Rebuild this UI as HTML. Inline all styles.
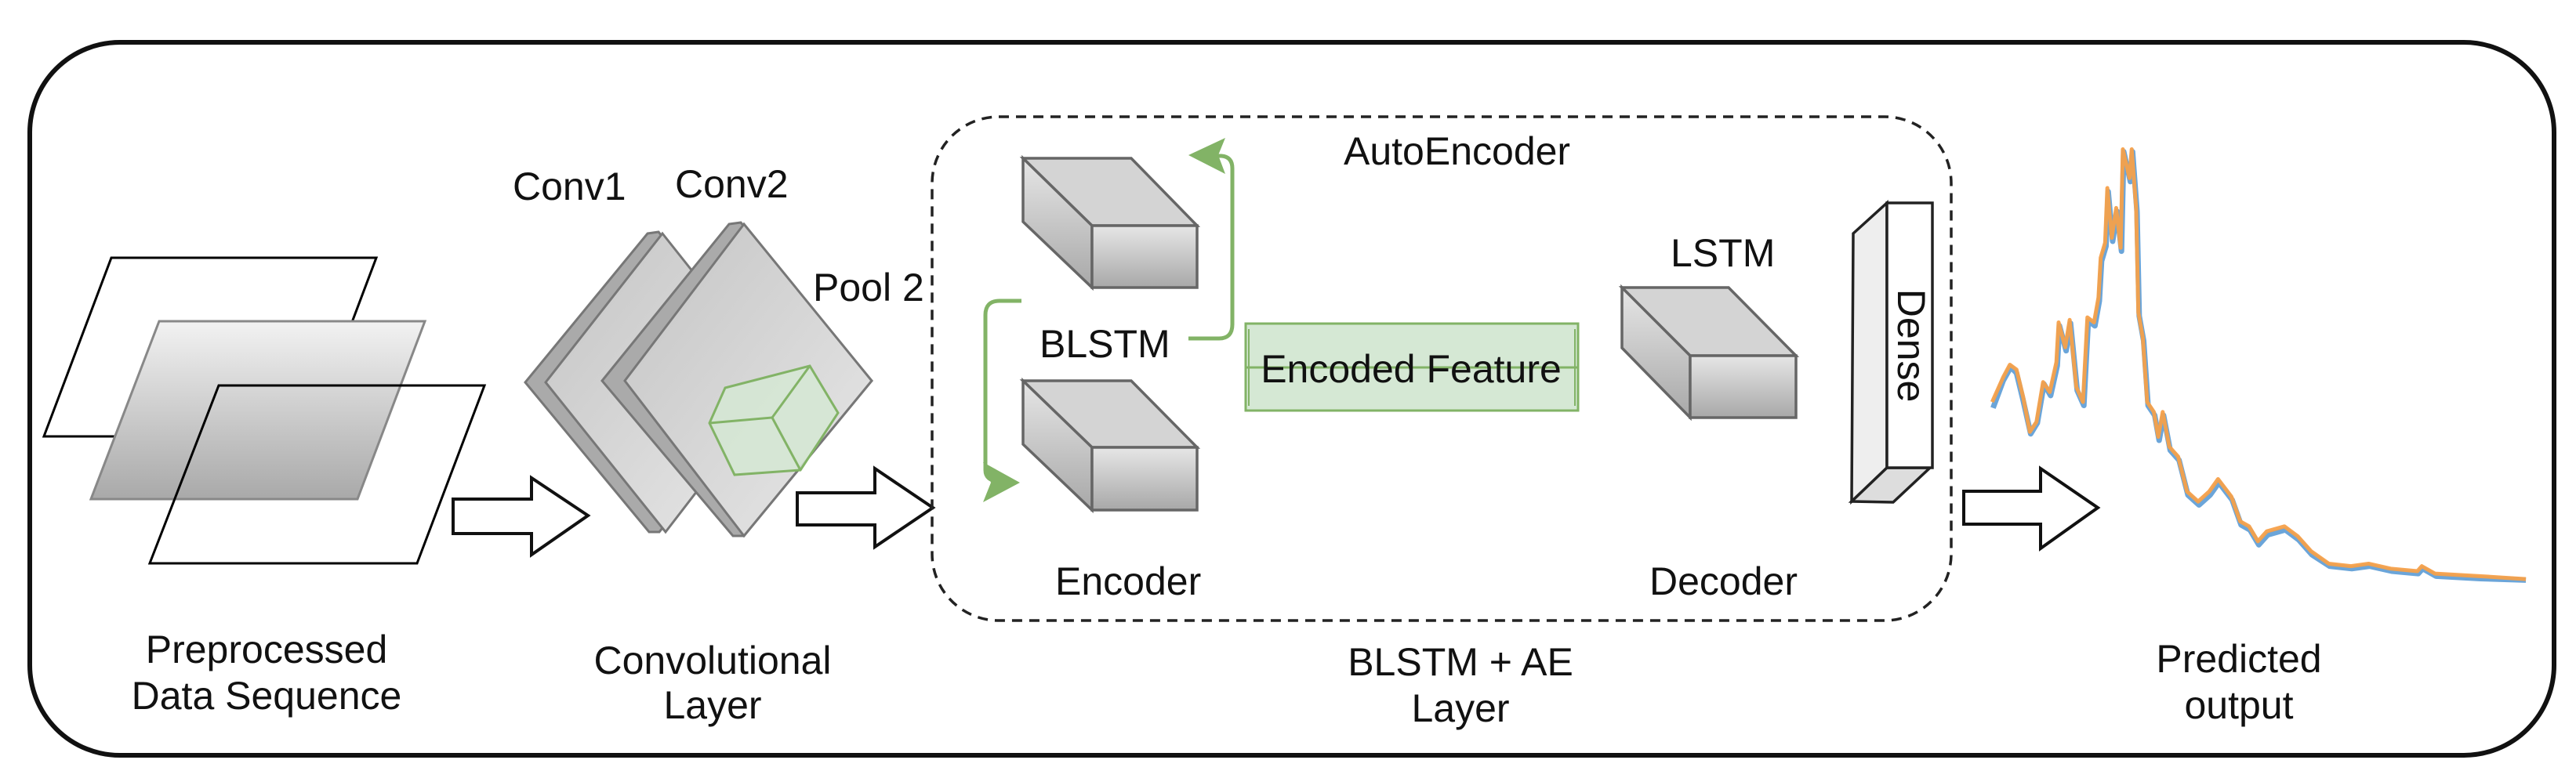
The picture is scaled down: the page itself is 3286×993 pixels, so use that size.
<!DOCTYPE html>
<html><head><meta charset="utf-8"><style>
html,body{margin:0;padding:0;background:#fff;}
svg{display:block;}
text{font-family:"Liberation Sans",Arial,sans-serif;font-size:50px;fill:#111;}
</style></head><body>
<svg width="3286" height="993" viewBox="0 0 3286 993" xmlns="http://www.w3.org/2000/svg">
<defs>
<linearGradient id="gv" x1="0" y1="0" x2="0" y2="1"><stop offset="0" stop-color="#f2f2f2"/><stop offset="1" stop-color="#a9a9a9"/></linearGradient>
<linearGradient id="gd" x1="0" y1="0" x2="1" y2="1"><stop offset="0" stop-color="#c4c4c4"/><stop offset="1" stop-color="#e8e8e8"/></linearGradient>
<linearGradient id="gc" x1="0" y1="0" x2="0" y2="1"><stop offset="0" stop-color="#e6e6e6"/><stop offset="1" stop-color="#a8a8a8"/></linearGradient>
</defs>
<!-- outer box -->
<rect x="38" y="54" width="3220" height="910" rx="115" ry="115" fill="#fff" stroke="#111" stroke-width="6"/>

<!-- data sequence -->
<polygon points="142,329 480,329 394,557 56,557" fill="#fff" stroke="#000" stroke-width="3"/>
<polygon points="203,410 542,410 456,637 116,637" fill="url(#gv)" stroke="#888" stroke-width="3"/>
<polygon points="279,492 618,492 532,719 191,719" fill="none" stroke="#000" stroke-width="3"/>
<!-- arrow1 -->
<polygon points="578,637 678,637 678,610 750,658 678,708 678,681 578,681" fill="#fff" stroke="#111" stroke-width="4"/>

<!-- conv1 -->
<polygon points="826,298 840,296 992,488 841,679 828,679 670,488" fill="#aaa" stroke="#777" stroke-width="3"/>
<polygon points="845,298 996,488 849,679 696,488" fill="url(#gd)" stroke="#777" stroke-width="3"/>
<!-- conv2 -->
<polygon points="930,286 945,284 1112,486 949,684 935,684 768,486" fill="#aaa" stroke="#777" stroke-width="3"/>
<polygon points="949,286 1112,486 949,684 797,486" fill="url(#gd)" stroke="#777" stroke-width="3"/>
<!-- green cube -->
<polygon points="925,495 1033,467 1069,527 1021,600 937,606 905,540" fill="#d5e8d4" fill-opacity="0.85" stroke="#82b366" stroke-width="3"/>
<polyline points="905,540 985,533 1033,467" fill="none" stroke="#82b366" stroke-width="3"/>
<line x1="985" y1="533" x2="1021" y2="600" stroke="#82b366" stroke-width="3"/>
<!-- arrow2 -->
<polygon points="1017,629 1116,629 1116,598 1190,648 1116,698 1116,670 1017,670" fill="#fff" stroke="#111" stroke-width="4"/>

<!-- dashed box -->
<rect x="1189" y="149" width="1300" height="643" rx="85" ry="85" fill="none" stroke="#222" stroke-width="3.5" stroke-dasharray="13,9"/>

<!-- encoder cubes -->
<g stroke="#666" stroke-width="3.5">
<polygon points="1305,202 1443,202 1527,288 1393,288" fill="#d4d4d4"/>
<polygon points="1305,202 1393,288 1393,367 1305,283" fill="url(#gc)"/>
<rect x="1393" y="288" width="134" height="79" fill="url(#gc)"/>
<polygon points="1305,486 1443,486 1527,571 1393,571" fill="#d4d4d4"/>
<polygon points="1305,486 1393,571 1393,651 1305,567" fill="url(#gc)"/>
<rect x="1393" y="571" width="134" height="80" fill="url(#gc)"/>
<!-- LSTM cube -->
<polygon points="2069,367 2205,367 2291,454 2156,454" fill="#d4d4d4"/>
<polygon points="2069,367 2156,454 2156,533 2069,444" fill="url(#gc)"/>
<rect x="2156" y="454" width="135" height="79" fill="url(#gc)"/>
</g>

<!-- green brackets -->
<g fill="none" stroke="#82b366" stroke-width="5">
<path d="M1303,384 H1275 Q1257,384 1257,402 V600 Q1257,614 1275,614 H1285"/>
<path d="M1516,432 H1555 Q1572,432 1572,414 V215 Q1572,200 1558,199 H1540"/>
</g>
<polygon points="1301,616 1254,641 1264,616 1254,590" fill="#82b366"/>
<polygon points="1516,198 1563,176 1554,198 1563,222" fill="#82b366"/>

<!-- encoded feature -->
<rect x="1589" y="413" width="424" height="111" fill="#d5e8d4" stroke="#82b366" stroke-width="3"/>
<line x1="1589" y1="469" x2="2013" y2="469" stroke="#82b366" stroke-width="3"/>
<line x1="1593" y1="420" x2="1593" y2="518" stroke="#82b366" stroke-width="2"/>
<line x1="2009" y1="420" x2="2009" y2="518" stroke="#82b366" stroke-width="2"/>

<!-- dense -->
<g stroke="#222" stroke-width="3.5">
<polygon points="2364,298 2407,259 2407,597 2362,640" fill="#eee"/>
<polygon points="2362,640 2415,641 2462,597 2407,597" fill="#ddd"/>
<rect x="2407" y="259" width="58" height="338" fill="#fff"/>
</g>
<text transform="translate(2421,441) rotate(90)" text-anchor="middle">Dense</text>

<!-- arrow3 -->
<polygon points="2505,627 2603,627 2603,598 2676,648 2603,700 2603,669 2505,669" fill="#fff" stroke="#111" stroke-width="4"/>

<!-- chart -->
<g transform="translate(2400,0) scale(0.565,0.635)" fill="none" stroke-linejoin="round">
<polyline stroke="#5b9bd5" stroke-width="7" vector-effect="non-scaling-stroke" stroke-opacity="0.9" points="252,820 275,765 292,738 305,750 320,805 337,872 352,850 367,772 382,795 397,735 402,655 417,705 427,650 442,785 457,815 467,645 482,655 492,605 497,525 507,495 512,385 522,485 532,425 542,505 547,305 562,365 567,305 577,425 582,635 592,685 602,815 617,835 627,885 637,835 652,905 672,925 692,995 717,1015 742,995 762,970 792,1005 812,1055 832,1065 852,1095 872,1075 912,1065 942,1085 972,1115 1012,1138 1062,1143 1102,1138 1152,1148 1212,1153 1222,1143 1252,1158 1352,1163 1455,1166"/>
<polyline stroke="#f5a04a" stroke-width="5" vector-effect="non-scaling-stroke" stroke-opacity="0.95" points="250,808 275,758 290,733 305,743 320,798 335,868 350,848 365,768 380,788 395,728 400,648 415,698 425,643 440,778 455,808 465,638 480,648 490,598 495,518 505,488 510,378 520,478 530,418 540,498 545,300 560,358 565,300 575,418 580,628 590,678 600,808 615,828 625,878 635,828 650,898 670,918 690,988 715,1008 740,988 760,963 790,998 810,1048 830,1058 850,1088 870,1068 910,1058 940,1078 970,1108 1010,1133 1060,1138 1100,1133 1150,1143 1210,1148 1220,1138 1250,1153 1350,1158 1455,1164"/>
</g>

<!-- labels -->
<text x="654" y="255">Conv1</text>
<text x="861" y="252">Conv2</text>
<text x="1037" y="384">Pool 2</text>
<text x="1326" y="456">BLSTM</text>
<text x="1714" y="210">AutoEncoder</text>
<text x="1800" y="488" text-anchor="middle">Encoded Feature</text>
<text x="2131" y="340">LSTM</text>
<text x="1346" y="759">Encoder</text>
<text x="2104" y="759">Decoder</text>
<text x="340" y="846" text-anchor="middle">Preprocessed</text>
<text x="340" y="905" text-anchor="middle">Data Sequence</text>
<text x="909" y="860" text-anchor="middle">Convolutional</text>
<text x="909" y="917" text-anchor="middle">Layer</text>
<text x="1863" y="862" text-anchor="middle">BLSTM + AE</text>
<text x="1863" y="921" text-anchor="middle">Layer</text>
<text x="2856" y="858" text-anchor="middle">Predicted</text>
<text x="2856" y="917" text-anchor="middle">output</text>
</svg>
</body></html>
